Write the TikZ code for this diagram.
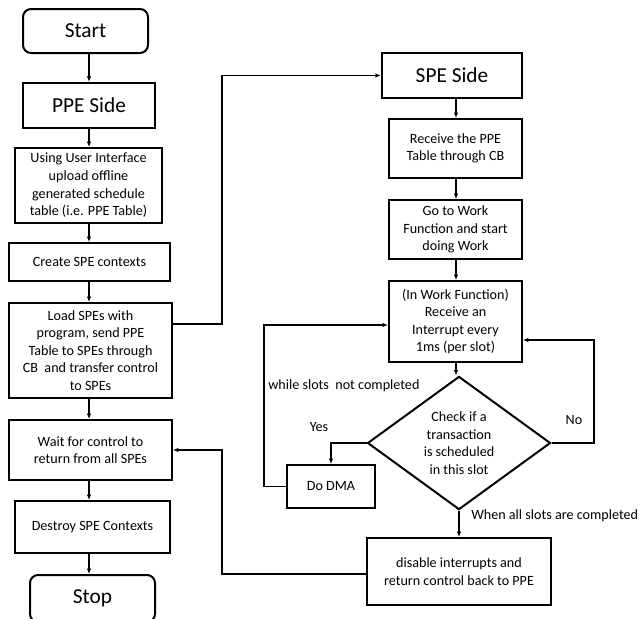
\documentclass[tikz,border=0pt]{standalone}
\usepackage{fontspec}
\setmainfont{Carlito}
\usetikzlibrary{arrows.meta,shapes.geometric}

\newcommand{\smallfont}{\fontsize{10.6}{13.2}\selectfont}
\tikzset{
  px/.style={x=0.75pt,y=-0.75pt},
  sz/.style 2 args={minimum width=#1*0.75pt,minimum height=#2*0.75pt},
  box/.style={draw,line width=1.5pt,align=center,inner sep=1pt,font=\smallfont},
  bigbox/.style={box,line width=1.8pt,font=\fontsize{16}{19}\selectfont},
  term/.style={bigbox,line width=1.5pt,rounded corners=6pt},
  dec/.style={draw,diamond,line width=1.5pt,align=center,inner sep=0pt,font=\smallfont},
  lbl/.style={font=\smallfont,inner sep=0pt},
  conn/.style={line width=0.8pt,-{Latex[length=4pt,width=3.4pt]}}
}

\begin{document}
\begin{tikzpicture}[px]
\useasboundingbox (0,0) rectangle (643,618);

% host (PPE) column
\node[term,sz={125}{44}] (start) at (85.5,31) {Start};
\node[bigbox,sz={132}{45}] (ppe) at (89,105.5) {PPE Side};
\node[box,sz={147}{75}] (ui) at (88.5,185.5)
  {Using User Interface\\upload offline\\generated schedule\\table (i.e. PPE Table)};
\node[box,sz={161}{38}] (create) at (89.5,262) {Create SPE contexts};
\node[box,sz={163}{95}] (load) at (90.5,350.5)
  {Load SPEs with\\program, send PPE\\Table to SPEs through\\CB\ \ and transfer control\\to SPEs};
\node[box,sz={163}{60}] (wait) at (90.5,450) {Wait for control to\\return from all SPEs};
\node[box,sz={155}{52}] (destroy) at (92.5,527) {Destroy SPE Contexts};
\node[term,sz={125}{47}] (stop) at (92.5,598.5) {Stop};

% worker (SPE) column
\node[bigbox,sz={140}{45}] (spe) at (452,75.5) {SPE Side};
\node[box,sz={133}{59}] (recv) at (455.5,148.5) {Receive the PPE\\Table through CB};
\node[box,sz={133}{59}] (work) at (455.5,229.5) {Go to Work\\Function and start\\doing Work};
\node[box,sz={133}{81}] (intr) at (455.5,321.5)
  {(In Work Function)\\Receive an\\Interrupt every\\1ms (per slot)};
\node[dec,sz={183}{102}] (check) at (459,443)
  {Check if a\\transaction\\is scheduled\\in this slot};
\node[box,sz={88}{43}] (dma) at (331,486.5) {Do DMA};
\node[box,sz={184}{67}] (done) at (459,571.5)
  {disable interrupts and\\return control back to PPE};

% routing points
\coordinate (lx) at (222,0);
\coordinate (dmax) at (264,0);
\coordinate (nox) at (594,0);

% straight flow arrows
\draw[conn] (start.south -| 89,0) -- (ppe.north -| 89,0);
\draw[conn] (ppe.south -| 89,0) -- (ui.north -| 89,0);
\draw[conn] (ui.south -| 89,0) -- (create.north -| 89,0);
\draw[conn] (create.south -| 89,0) -- (load.north -| 89,0);
\draw[conn] (load.south -| 89,0) -- (wait.north -| 89,0);
\draw[conn] (wait.south -| 89,0) -- (destroy.north -| 89,0);
\draw[conn] (destroy.south -| 89,0) -- (stop.north -| 89,0);

\draw[conn] (spe.south -| 456,0) -- (recv.north -| 456,0);
\draw[conn] (recv.south -| 456,0) -- (work.north -| 456,0);
\draw[conn] (work.south -| 456,0) -- (intr.north -| 456,0);
\draw[conn] (intr.south -| 456,0) -- (check.north -| 456,0);
\draw[conn] (check.south) -- (done.north);

% hand-over from PPE to SPE
\draw[conn] (load.east |- 0,324) -| (lx |- spe.west) -- (spe.west);

% return of control to PPE
\draw[conn] (done.west |- 0,574) -| (lx |- wait.east) -- (wait.east);

% decision branches
\draw[conn] (check.west) -| (dma.north);
\draw[conn] (check.east) -| (nox |- 0,340) -- (intr.east |- 0,340);
\draw[conn] (dma.west) -| (dmax |- 0,325) -- (intr.west |- 0,325);

% branch labels
\node[lbl,anchor=west] at (268,386) {while slots\ \ not completed};
\node[lbl] at (319,427) {Yes};
\node[lbl] at (574,420) {No};
\node[lbl,anchor=west] at (471,516) {When all slots\ are completed};
\end{tikzpicture}
\end{document}
